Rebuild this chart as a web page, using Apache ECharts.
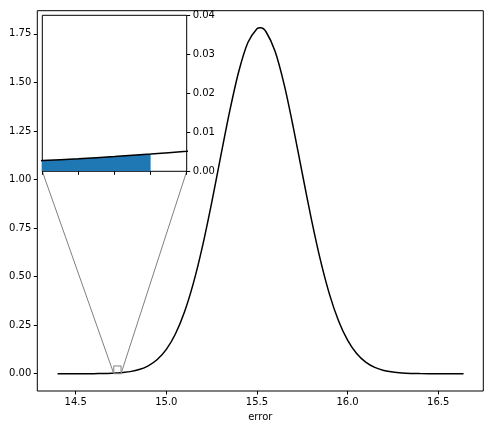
<!DOCTYPE html>
<html>
<head>
<meta charset="utf-8">
<script src="https://cdn.jsdelivr.net/npm/echarts@6/dist/echarts.min.js"></script>
<style>html,body{margin:0;padding:0;background:#fff}#c{width:493px;height:429px}</style>
</head>
<body>
<div id="c"></div>
<script>
// values
const errorX = [14.40, 14.45, 14.50, 14.55, 14.60, 14.65, 14.70, 14.71, 14.72, 14.73, 14.74, 14.75, 14.76, 14.80, 14.85, 14.90, 14.95, 15.00, 15.05, 15.10, 15.15, 15.20, 15.25, 15.30, 15.35, 15.40, 15.45, 15.50, 15.52, 15.55, 15.60, 15.65, 15.70, 15.75, 15.80, 15.85, 15.90, 15.95, 16.00, 16.05, 16.10, 16.15, 16.20, 16.25, 16.30, 16.35, 16.40, 16.50, 16.64];
const density = [0.0000, 0.00002, 0.00006, 0.00016, 0.00042, 0.00101, 0.00234, 0.00275, 0.00323, 0.00378, 0.00441, 0.00514, 0.00599, 0.01075, 0.0214, 0.0406, 0.0732, 0.1254, 0.2046, 0.3174, 0.4688, 0.6585, 0.880, 1.1188, 1.3534, 1.5575, 1.7053, 1.7765, 1.7807, 1.7606, 1.6601, 1.4893, 1.2710, 1.0321, 0.7974, 0.5860, 0.4098, 0.2725, 0.1725, 0.1039, 0.0595, 0.0324, 0.0168, 0.0083, 0.0039, 0.0017, 0.00074, 0.00011, 0.0000];
const fillUpTo = 14.74;
const mainXTicks = [14.5, 15.0, 15.5, 16.0, 16.5];
const mainYTicks = [0, 0.25, 0.5, 0.75, 1.0, 1.25, 1.5, 1.75];
const insetXRange = [14.71, 14.75];
const insetXTicks = [14.71, 14.72, 14.73, 14.74, 14.75];
const insetYRange = [0, 0.04];
const xName = 'error';

const curve = errorX.map((x, i) => [x, density[i]]);
const fill = curve.filter(p => p[0] <= fillUpTo + 1e-9);

const font = {fontFamily: 'DejaVu Sans', fontSize: 10, color: '#000'};
const chart = echarts.init(document.getElementById('c'), null, {renderer: 'canvas'});
const option = {
  animation: false,
  backgroundColor: '#fff',
  grid: [
    {left: 37.3, right: 9.7, top: 10.7, bottom: 38, show: true, borderColor: '#000', borderWidth: 1, backgroundColor: 'transparent', z: 0},
    {left: 42.3, top: 15.3, width: 144.4, height: 156, show: true, borderColor: '#000', borderWidth: 1, backgroundColor: '#fff', z: 5}
  ],
  xAxis: [
    {type: 'value', gridIndex: 0, min: 14.288, max: 16.749,
     name: xName, nameLocation: 'middle', nameGap: 21, nameTextStyle: font,
     axisLine: {show: false, onZero: false},
     axisTick: {show: true, length: 3.5, inside: false, customValues: mainXTicks, lineStyle: {color: '#000'}},
     axisLabel: Object.assign({show: true, margin: 6, customValues: mainXTicks, formatter: v => v.toFixed(1)}, font),
     splitLine: {show: false}},
    {type: 'value', gridIndex: 1, min: insetXRange[0], max: insetXRange[1], z: 6,
     axisLine: {show: false, onZero: false},
     axisTick: {show: true, length: 3.5, inside: false, customValues: insetXTicks, lineStyle: {color: '#000'}},
     axisLabel: {show: false, customValues: insetXTicks},
     splitLine: {show: false}}
  ],
  yAxis: [
    {type: 'value', gridIndex: 0, min: -0.089, max: 1.869,
     axisLine: {show: false, onZero: false},
     axisTick: {show: true, length: 3.5, inside: false, customValues: mainYTicks, lineStyle: {color: '#000'}},
     axisLabel: Object.assign({show: true, margin: 6, customValues: mainYTicks, formatter: v => v.toFixed(2)}, font),
     splitLine: {show: false}},
    {type: 'value', gridIndex: 1, position: 'right', min: insetYRange[0], max: insetYRange[1], interval: 0.01, z: 6,
     axisLine: {show: false, onZero: false},
     axisTick: {show: true, length: 3.5, inside: false, lineStyle: {color: '#000'}},
     axisLabel: Object.assign({show: true, margin: 6, formatter: v => v.toFixed(2)}, font),
     splitLine: {show: false}}
  ],
  series: [
    {type: 'line', xAxisIndex: 0, yAxisIndex: 0, data: curve, smooth: 0.3,
     symbol: 'none', lineStyle: {color: '#000', width: 1.5}, z: 3},
    {type: 'line', xAxisIndex: 1, yAxisIndex: 1, data: fill, smooth: 0.3,
     symbol: 'none', lineStyle: {width: 0, color: '#1f77b4'}, areaStyle: {color: '#1f77b4', opacity: 1}, z: 7},
    {type: 'line', xAxisIndex: 1, yAxisIndex: 1, data: curve, smooth: 0.3,
     symbol: 'none', lineStyle: {color: '#000', width: 1.5}, z: 8}
  ]
};
chart.setOption(option);

// inset marker rectangle and connector lines, positioned through the axes
const r0 = chart.convertToPixel({xAxisIndex: 0, yAxisIndex: 0}, [insetXRange[0], insetYRange[0]]);
const r1 = chart.convertToPixel({xAxisIndex: 0, yAxisIndex: 0}, [insetXRange[1], insetYRange[1]]);
const q0 = chart.convertToPixel({xAxisIndex: 1, yAxisIndex: 1}, [insetXRange[0], insetYRange[0]]);
const q1 = chart.convertToPixel({xAxisIndex: 1, yAxisIndex: 1}, [insetXRange[1], insetYRange[0]]);
chart.setOption({
  graphic: [
    {type: 'rect', z: 4, shape: {x: r0[0], y: r1[1], width: r1[0] - r0[0], height: r0[1] - r1[1]},
     style: {fill: 'none', stroke: '#808080', lineWidth: 1}},
    {type: 'line', z: 4, shape: {x1: q0[0], y1: q0[1], x2: r0[0], y2: r0[1]}, style: {stroke: '#808080', lineWidth: 1}},
    {type: 'line', z: 4, shape: {x1: q1[0], y1: q1[1], x2: r1[0], y2: r0[1]}, style: {stroke: '#808080', lineWidth: 1}}
  ]
});
</script>
</body>
</html>
